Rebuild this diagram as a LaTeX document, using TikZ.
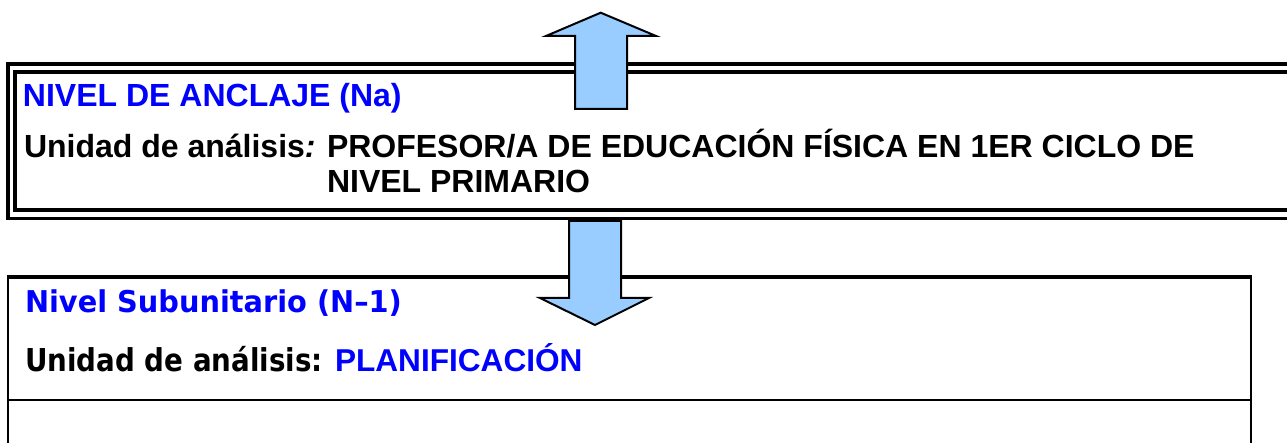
\documentclass[tikz,border=0pt]{standalone}
\usepackage{fontspec}
\setmainfont{Liberation Sans}
\newfontfamily\tahfont[FakeStretch=0.96]{DejaVu Sans}
\newfontfamily\tahnarrow[FakeStretch=0.88]{DejaVu Sans}
\definecolor{arrowblue}{HTML}{99CCFF}
\definecolor{txtblue}{HTML}{0000FF}
\begin{document}
\begin{tikzpicture}[x=1pt,y=-1pt,
  dblframe/.style={line width=3.6pt},
  boxline/.style={line width=2.4pt},
  boxtop/.style={line width=4pt},
  blockarrow/.style={fill=arrowblue, draw=black, line width=2pt, line join=miter},
  lbl/.style={anchor=base west, inner sep=0pt, outer sep=0pt},
  arialtxt/.style={lbl, font=\bfseries\fontsize{32}{36}\selectfont},
  tahtxt/.style={lbl, font=\tahfont\bfseries\fontsize{30}{36}\selectfont},
  tahtxtb/.style={lbl, font=\tahnarrow\bfseries\fontsize{31.5}{36}\selectfont}]
\useasboundingbox (0,0) rectangle (1287,443);
\clip (0,0) rectangle (1287,443);
% top box (double frame, open to the right)
\coordinate (otl) at (8,64);
\coordinate (obl) at (8,218.5);
\coordinate (itl) at (15,72);
\coordinate (ibl) at (15,210);
\draw[dblframe] (1300,64) -- (otl) -- (obl) -- (1300,218.5);
\draw[dblframe] (1300,72) -- (itl) -- (ibl) -- (1300,210);
% bottom box
\coordinate (btl) at (8,277);
\coordinate (btr) at (1251,277);
\draw[boxline] (8,460) -- (btl);
\draw[boxline] (btr) -- (1251,460);
\draw[boxtop] ([xshift=-1.2pt]btl) -- ([xshift=1.2pt]btr);
\draw[boxline] (8,399.7) -- (1251,399.7);
% arrows
\draw[blockarrow] (575,109) -- (575,36) -- (546,36) -- (600.7,12.7) -- (656,36) -- (627,36) -- (627,109) -- cycle;
\draw[blockarrow] (569,221) -- (621,221) -- (621,298) -- (649,298) -- (595,325) -- (540,298) -- (569,298) -- cycle;
% texts
\node[arialtxt, text=txtblue] (na) at (23,107) {NIVEL DE ANCLAJE (Na)};
\node[arialtxt] (ua) at (24,158) {Unidad de análisis\textit{:}};
\node[arialtxt] (prof) at (327,158) {PROFESOR/A DE EDUCACIÓN FÍSICA EN 1ER CICLO DE};
\node[arialtxt] (prim) at (327,193) {NIVEL PRIMARIO};
\node[tahtxt, text=txtblue] (ns) at (25,313) {Nivel Subunitario (N–1)};
\node[tahtxtb] (ub) at (25,371) {Unidad de análisis:};
\node[arialtxt, text=txtblue, font=\bfseries\fontsize{31.6}{36}\selectfont] (plan) at (335,371) {PLANIFICACIÓN};
\end{tikzpicture}
\end{document}
